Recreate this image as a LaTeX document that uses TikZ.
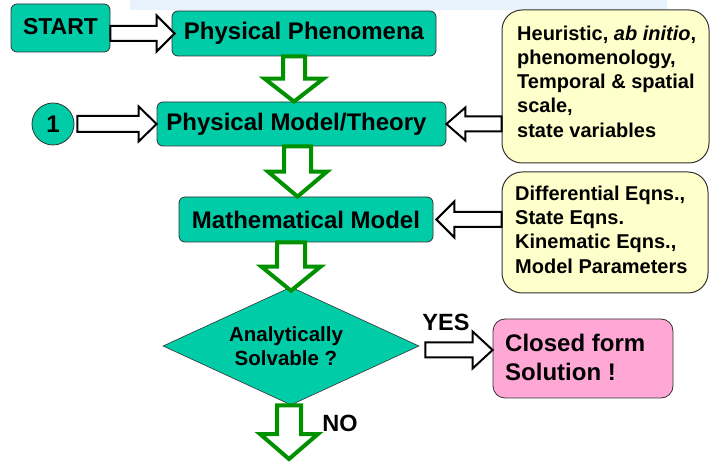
\documentclass[tikz,border=0pt]{standalone}
\usepackage{fontspec}
\setmainfont{Liberation Sans}
\usetikzlibrary{shapes.geometric,calc}
\definecolor{tealbg}{RGB}{0,204,168}
\definecolor{yelbg}{RGB}{255,255,204}
\definecolor{pinkbg}{RGB}{255,168,214}
\definecolor{arrgreen}{RGB}{0,145,0}
\definecolor{bandbg}{RGB}{232,242,252}
\definecolor{edgecol}{RGB}{50,50,50}
% #1 style, #2 from, #3 to, #4 shaft half width, #5 head half width, #6 head length
\newcommand\blockarr[6]{%
  \coordinate (hb) at ($(#3)!#6!(#2)$);
  \draw[#1] ($(#2)!#4!90:(#3)$) -- ($(hb)!#4!90:(#3)$) -- ($(hb)!#5!90:(#3)$) -- (#3)
    -- ($(hb)!#5!-90:(#3)$) -- ($(hb)!#4!-90:(#3)$) -- ($(#2)!#4!-90:(#3)$) -- cycle;
}
\tikzset{
  tealbox/.style={draw=edgecol, line width=0.8pt, fill=tealbg, rounded corners=6pt, inner sep=0pt,
    font=\bfseries\fontsize{24}{28}\selectfont},
  yelbox/.style={draw=edgecol, line width=1pt, fill=yelbg, rounded corners=20pt, inner sep=0pt},
  yeltext/.style={font=\bfseries\fontsize{20}{24.3}\selectfont, align=left, anchor=west, inner sep=0pt},
  hollowblk/.style={draw=black, line width=2pt, fill=white, line join=miter},
  hollowgrn/.style={draw=arrgreen, line width=4pt, fill=white, line join=miter},
  lbl/.style={font=\bfseries\fontsize{23.5}{27}\selectfont, inner sep=0pt}
}
\begin{document}
\begin{tikzpicture}[x=1pt,y=-1pt]
\useasboundingbox (0,0) rectangle (710,462);
\fill[bandbg] (130,0) rectangle (667,10);

% boxes
\node[tealbox, minimum width=99pt, minimum height=48pt, font=\bfseries\fontsize{23}{27}\selectfont] (start) at (60.5,28) {\raisebox{3pt}{START}};
\node[tealbox, minimum width=264pt, minimum height=45pt] (pp) at (304,33.5) {Physical Phenomena};
\node[circle, draw=edgecol, line width=0.8pt, fill=tealbg, minimum size=42pt, inner sep=0pt,
  font=\bfseries\fontsize{24}{28}\selectfont] (one) at (53,124) {1};
\node[tealbox, minimum width=289pt, minimum height=44pt] (pmt) at (301.5,124) {Physical Model/Theory\hspace*{10pt}};
\node[tealbox, minimum width=254pt, minimum height=45pt] (mm) at (306,219.5) {Mathematical Model};
\node[diamond, draw=edgecol, line width=0.6pt, fill=tealbg, aspect=2.17, minimum width=256pt, minimum height=118pt,
  inner sep=0pt, align=center, font=\bfseries\fontsize{20.5}{24}\selectfont] (dia) at (291,346) {Analytically\hspace*{10pt}\\Solvable ?\hspace*{10pt}};
\node[draw=edgecol, line width=0.8pt, fill=pinkbg, rounded corners=12pt, minimum width=180pt, minimum height=79pt] (pink) at (583,358.5) {};
\node[font=\bfseries\fontsize{24}{29}\selectfont, align=left, anchor=west, inner sep=0pt] (pinkt) at (505,357.5) {Closed form\\Solution !};

\node[yelbox, minimum width=207pt, minimum height=153pt] (y1) at (605.5,86.5) {};
\node[yeltext] (y1t) at (517,81.5) {Heuristic, \textit{ab initio},\\phenomenology,\\Temporal \& spatial\\scale,\\state variables};
\node[yelbox, minimum width=206pt, minimum height=121pt] (y2) at (605,232.5) {};
\node[yeltext] (y2t) at (515,229.5) {Differential Eqns.,\\State Eqns.\\Kinematic Eqns.,\\Model Parameters};

% hollow black arrows
\coordinate (a1s) at (start.east |- pp.west);
\coordinate (a1e) at ([xshift=3pt]pp.west);
\blockarr{hollowblk}{a1s}{a1e}{7.5pt}{18pt}{18pt}
\coordinate (a2s) at ([xshift=3pt]one.east);
\blockarr{hollowblk}{a2s}{pmt.west}{8pt}{17.5pt}{18pt}
\coordinate (a3s) at (y1.west |- pmt.east);
\blockarr{hollowblk}{a3s}{pmt.east}{7.5pt}{16.5pt}{19pt}
\coordinate (a4s) at (y2.west |- mm.east);
\coordinate (a4e) at ([xshift=3pt]mm.east);
\blockarr{hollowblk}{a4s}{a4e}{7.5pt}{18pt}{18pt}
\coordinate (a5s) at ([xshift=6pt,yshift=-4pt]dia.east);
\coordinate (a5e) at (a5s -| pink.west);
\blockarr{hollowblk}{a5s}{a5e}{7.5pt}{18.5pt}{20pt}

% green arrows
\coordinate (g1s) at ([xshift=-10pt]pp.south);
\coordinate (g1e) at (g1s |- pmt.north);
\blockarr{hollowgrn}{g1s}{g1e}{11pt}{29.5pt}{23pt}
\coordinate (g2s) at ([xshift=-4pt]pmt.south);
\coordinate (g2e) at (g2s |- mm.north);
\blockarr{hollowgrn}{g2s}{g2e}{13.5pt}{29.5pt}{25pt}
\coordinate (g3s) at (dia.north |- mm.south);
\coordinate (g3e) at ([yshift=-4pt]dia.north);
\blockarr{hollowgrn}{g3s}{g3e}{14pt}{29.5pt}{24pt}
\coordinate (g4s) at ([xshift=-2pt]dia.south);
\coordinate (noend) at (289,459);
\blockarr{hollowgrn}{g4s}{noend}{12pt}{29pt}{25pt}

% labels
\node[lbl] (yes) at (446,322) {YES};
\node[lbl] (no) at (340,423) {NO};
\end{tikzpicture}
\end{document}
